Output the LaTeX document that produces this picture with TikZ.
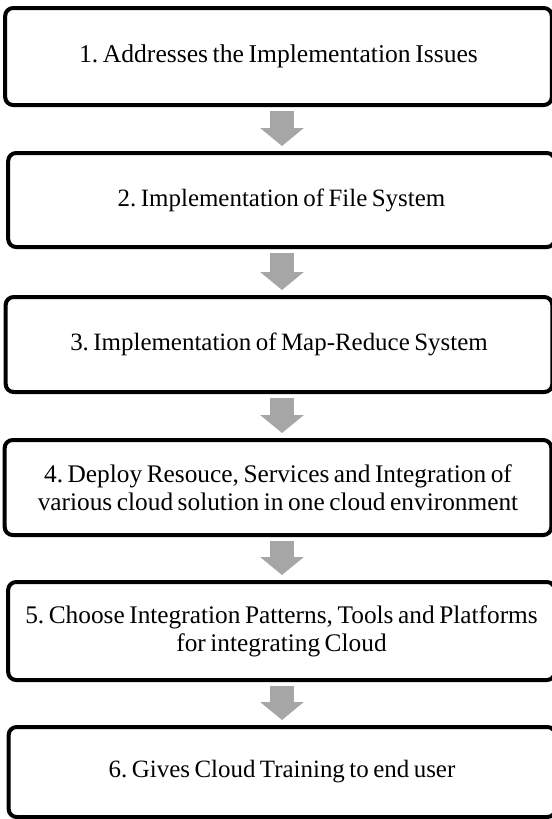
\documentclass[tikz,border=0pt]{standalone}
\usepackage{fontspec}
\setmainfont{Liberation Serif}
\usetikzlibrary{arrows.meta}
\definecolor{arrowgray}{RGB}{166,166,166}
\newcommand{\tightwords}{\frenchspacing\spaceskip=0.18em\relax\xspaceskip=\spaceskip}
\tikzset{
  stage/.style={draw=black, line width=3pt, rounded corners=6pt, fill=white,
    inner sep=0pt, outer sep=0pt, align=center, text width=410pt,
    font=\fontsize{18.7}{22.5}\selectfont,
    execute at begin node=\tightwords},
  twoline/.style={font=\fontsize{19}{21}\selectfont},
  flowarrow/.style={draw=arrowgray, line width=18pt,
    -{Triangle[width=32pt, length=13.5pt]}}
}
\begin{document}
\begin{tikzpicture}[x=0.75pt, y=-0.75pt]
  \useasboundingbox[fill=white] (0,0) rectangle (552,819);
  \coordinate (ax) at (282,0);

  \node[stage, minimum width=541*0.75pt, minimum height=97*0.75pt,
        font=\fontsize{19.2}{22.5}\selectfont] (b1) at (278.5,56.5)
    {1. Addresses the Implementation Issues};
  \node[stage, minimum width=535*0.75pt, minimum height=94*0.75pt] (b2) at (281.5,200)
    {2. Implementation of File System};
  \node[stage, minimum width=540*0.75pt, minimum height=95*0.75pt] (b3) at (279,344.5)
    {3. Implementation of Map-Reduce System};
  \node[stage, twoline, minimum width=542*0.75pt, minimum height=95*0.75pt] (b4) at (278,487.5)
    {4. Deploy Resouce, Services and Integration of\\various cloud solution in one cloud environment};
  \node[stage, twoline, minimum width=535*0.75pt, minimum height=98*0.75pt] (b5) at (281.5,631)
    {5. Choose Integration Patterns, Tools and Platforms\\for integrating Cloud};
  \node[stage, minimum width=534*0.75pt, minimum height=90*0.75pt] (b6) at (282,772)
    {6. Gives Cloud Training to end user};

  \foreach \a/\b in {b1/b2, b2/b3, b3/b4, b4/b5, b5/b6}
    \draw[flowarrow] ([yshift=-4.5pt]\a.south -| ax) -- ([yshift=5.25pt]\b.north -| ax);
\end{tikzpicture}
\end{document}
